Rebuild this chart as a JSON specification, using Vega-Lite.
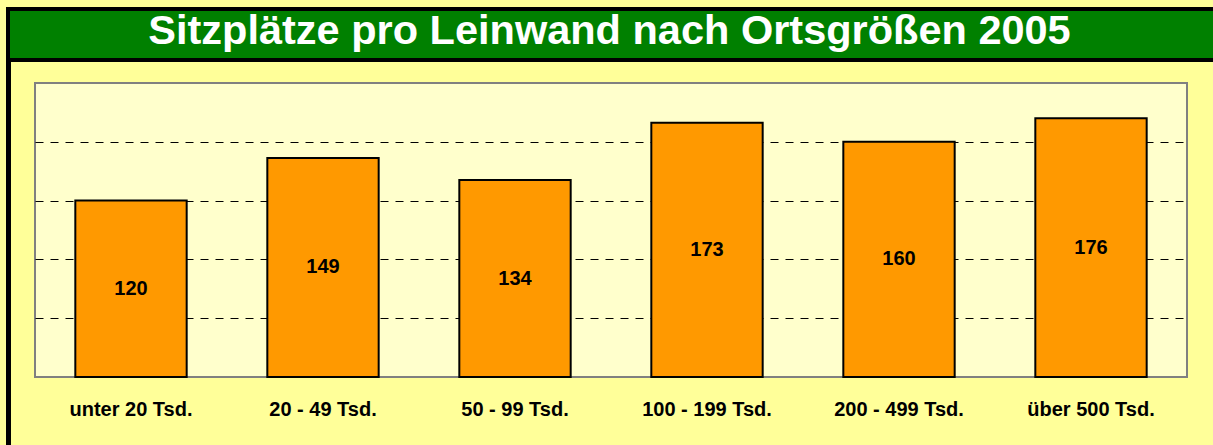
{
  "$schema": "https://vega.github.io/schema/vega-lite/v6.json",
  "background": "#FFFF99",
  "padding": {"left": 6, "top": 7, "right": -6, "bottom": 0},
  "spacing": 0,
  "config": {"font": "Liberation Sans"},
  "vconcat": [
    {
      "width": 1209,
      "height": 51,
      "view": {"fill": "#008000", "stroke": "#000000", "strokeWidth": 4},
      "data": {"values": [{"title": "Sitzplätze pro Leinwand nach Ortsgrößen 2005"}]},
      "mark": {"type": "text", "font": "Liberation Sans", "fontWeight": "bold", "fontSize": 41.5, "color": "#FFFFFF", "align": "center", "baseline": "middle", "dy": -3, "dx": -3},
      "encoding": {"text": {"field": "title", "type": "nominal"}}
    },
    {
      "spacing": 23,
      "center": true,
      "hconcat": [
        {
          "width": 1,
          "height": 379,
          "view": {"fill": "#000000", "stroke": "#000000", "strokeWidth": 4},
          "data": {"values": [{"t": ""}]},
          "mark": {"type": "text"},
          "encoding": {"text": {"field": "t", "type": "nominal"}}
        },
        {
          "width": 1152,
          "height": 294,
          "view": {"fill": "#FFFFCC", "stroke": "#808080", "strokeWidth": 2},
          "data": {"values": [
            {"category": "unter 20 Tsd.", "value": 120},
            {"category": "20 - 49 Tsd.", "value": 149},
            {"category": "50 - 99 Tsd.", "value": 134},
            {"category": "100 - 199 Tsd.", "value": 173},
            {"category": "200 - 499 Tsd.", "value": 160},
            {"category": "über 500 Tsd.", "value": 176}
          ]},
          "encoding": {
            "x": {
              "field": "category", "type": "nominal", "sort": null,
              "scale": {"paddingInner": 0, "paddingOuter": 0},
              "axis": {"title": null, "domain": false, "ticks": false, "grid": false, "labelAngle": 0,
                       "labelFont": "Liberation Sans", "labelFontWeight": "bold", "labelFontSize": 20,
                       "labelColor": "#000000", "labelPadding": 22, "labelLimit": 0,
                       "minExtent": 48, "maxExtent": 48}
            }
          },
          "layer": [
            {
              "mark": {"type": "bar", "width": {"band": 0.58}, "color": "#FF9900", "stroke": "#000000", "strokeWidth": 2},
              "encoding": {
                "y": {
                  "field": "value", "type": "quantitative",
                  "scale": {"domain": [0, 200], "nice": false},
                  "axis": {"title": null, "labels": false, "ticks": false, "domain": false,
                           "grid": true, "gridColor": "#000000", "gridDash": [8, 7], "gridWidth": 1, "gridOpacity": 1,
                           "values": [40, 80, 120, 160], "minExtent": 0, "maxExtent": 0}
                }
              }
            },
            {
              "mark": {"type": "text", "font": "Liberation Sans", "fontWeight": "bold", "fontSize": 20, "color": "#000000", "align": "center", "baseline": "middle"},
              "encoding": {
                "y": {"field": "value", "type": "quantitative", "scale": {"domain": [0, 400], "nice": false}, "axis": null},
                "text": {"field": "value", "type": "quantitative"}
              }
            }
          ],
          "resolve": {"scale": {"y": "independent"}}
        }
      ]
    }
  ]
}
